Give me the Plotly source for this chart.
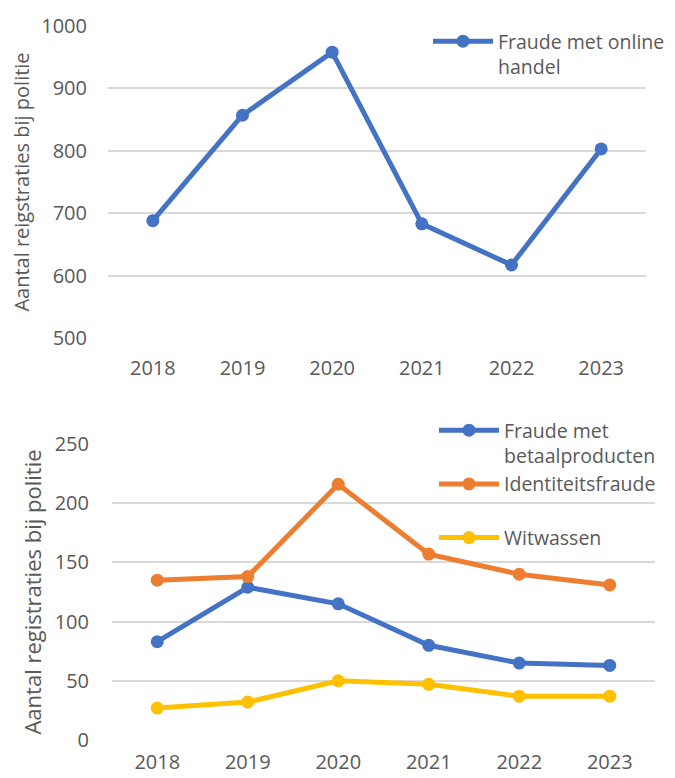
import plotly.graph_objects as go
from plotly.subplots import make_subplots

years = ["2018", "2019", "2020", "2021", "2022", "2023"]

online_handel = [688, 857, 958, 683, 617, 803]
betaalproducten = [83, 129, 115, 80, 65, 63]
identiteitsfraude = [135, 138, 216, 157, 140, 131]
witwassen = [27, 32, 50, 47, 37, 37]

BLUE = "#4472C4"
ORANGE = "#ED7D31"
YELLOW = "#FFC000"
GRID = "#D9D9D9"
TEXT = "#595959"
FONT = "Open Sans"

W, H = 675, 778
OFF = 8  # page body margin

fig = make_subplots(rows=2, cols=1)


def add_line(y, name, color, row, legend):
    fig.add_trace(
        go.Scatter(x=years, y=y, name=name, mode="lines+markers",
                   line=dict(color=color, width=5),
                   marker=dict(color=color, size=13),
                   legend=legend),
        row=row, col=1,
    )


add_line(online_handel, "Fraude met online<br>handel", BLUE, 1, "legend")
add_line(betaalproducten, "Fraude met<br>betaalproducten", BLUE, 2, "legend2")
add_line(identiteitsfraude, "Identiteitsfraude<br> ", ORANGE, 2, "legend2")
add_line(witwassen, "Witwassen", YELLOW, 2, "legend2")


def px(x):
    return (x - OFF) / W


def py(y):
    return 1 - (y - OFF) / H


tick_font = dict(size=20, color=TEXT, family=FONT)
axis_common = dict(showline=False, zeroline=False, automargin=False, tickfont=tick_font)

fig.update_xaxes(domain=[px(108), px(646)], range=[-0.5, 5.5], showgrid=False,
                 ticks="", ticklabelstandoff=16, row=1, col=1, **axis_common)
fig.update_xaxes(domain=[px(112), px(655)], range=[-0.5, 5.5], showgrid=False,
                 ticks="", ticklabelstandoff=8, row=2, col=1, **axis_common)
fig.update_yaxes(domain=[py(338), py(26)], range=[500, 1000], dtick=100,
                 showgrid=True, gridcolor=GRID, gridwidth=2, ticks="",
                 ticklabelstandoff=20,
                 title=dict(text="Aantal reigstraties bij politie",
                            font=dict(size=20, color=TEXT, family=FONT), standoff=10),
                 row=1, col=1, **axis_common)
fig.update_yaxes(domain=[py(740), py(444)], range=[0, 250], dtick=50,
                 showgrid=True, gridcolor=GRID, gridwidth=2, ticks="",
                 ticklabelstandoff=22,
                 title=dict(text="Aantal registraties bij politie",
                            font=dict(size=22, color=TEXT, family=FONT), standoff=6),
                 row=2, col=1, **axis_common)

legend_font = dict(size=19.5, color=TEXT, family=FONT)
fig.update_layout(
    width=W, height=H,
    margin=dict(l=0, r=0, t=0, b=0),
    paper_bgcolor="white", plot_bgcolor="white",
    font=dict(family=FONT, color=TEXT),
    legend=dict(x=px(420 + OFF), y=py(14 + OFF), xanchor="left", yanchor="top",
                font=legend_font, bgcolor="rgba(0,0,0,0)", valign="top",
                itemwidth=60),
    legend2=dict(x=px(426 + OFF), y=py(403 + OFF), xanchor="left", yanchor="top",
                 font=legend_font, bgcolor="rgba(0,0,0,0)", valign="top",
                 tracegroupgap=0, itemwidth=60),
    showlegend=True,
)

fig.write_html("out.html")
